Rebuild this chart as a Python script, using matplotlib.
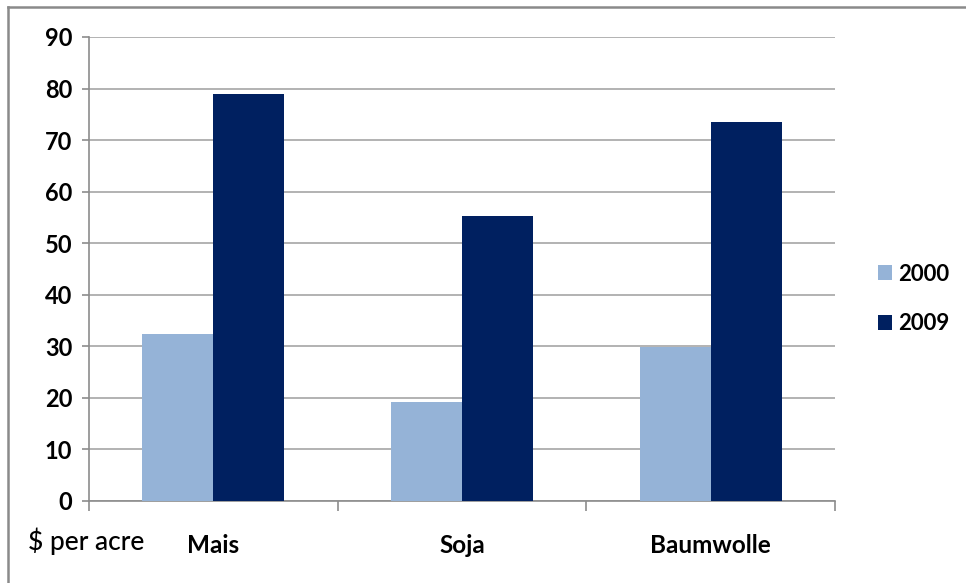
import matplotlib
matplotlib.use("Agg")
import matplotlib.pyplot as plt
from matplotlib.lines import Line2D
import numpy as np

categories = ["Mais", "Soja", "Baumwolle"]
series_names = ["2000", "2009"]
values_2000 = [32.4, 19.2, 29.9]
values_2009 = [78.9, 55.3, 73.6]
colors = ["#95B3D7", "#002060"]
yticks = [0, 10, 20, 30, 40, 50, 60, 70, 80, 90]

W, H = 966, 583
fig = plt.figure(figsize=(W / 100, H / 100), dpi=100)
ax = fig.add_axes([89 / W, 1 - 501 / H, (835 - 89) / W, (501 - 37) / H])

font = ["Lato", "DejaVu Sans"]
bw = 0.2857
x = np.arange(len(categories))
ax.bar(x - bw / 2, values_2000, width=bw, color=colors[0], label=series_names[0], zorder=3)
ax.bar(x + bw / 2, values_2009, width=bw, color=colors[1], label=series_names[1], zorder=3)

ax.set_xlim(-0.5, len(categories) - 0.5)
ax.set_ylim(0, 90)
ax.set_yticks(yticks)
ax.set_yticklabels([str(t) for t in yticks], fontsize=17, fontweight="bold", family=font)
ax.yaxis.grid(True, color="#A6A6A6", linewidth=1.2, zorder=0)
ax.set_axisbelow(True)

ax.set_xticks(np.arange(-0.5, len(categories) + 0.5, 1.0))
ax.set_xticklabels([])
ax.tick_params(axis="x", length=7, color="#8C8C8C", width=1.2)
ax.tick_params(axis="y", length=5, color="#8C8C8C", width=1.2, pad=7)
for i, c in enumerate(categories):
    ax.text(i, -0.095, c, transform=ax.get_xaxis_transform(), ha="center", va="center",
            fontsize=17.5, fontweight="bold", family=font)

for s in ["top", "right"]:
    ax.spines[s].set_visible(False)
for s in ["left", "bottom"]:
    ax.spines[s].set_color("#8C8C8C")
    ax.spines[s].set_linewidth(1.2)

fig.text(28 / W, 1 - 541 / H, "$ per acre", ha="left", va="center",
         fontsize=19, family=font, fontweight="medium")

leg = fig.legend(loc="center left", bbox_to_anchor=(878 / W, 1 - 299 / H), frameon=False,
                 borderpad=0, borderaxespad=0,
                 prop={"family": font, "weight": "bold", "size": 16},
                 handlelength=0.63, handleheight=0.63, handletextpad=0.27, labelspacing=1.3)

# outer chart border: only top and left edges are visible in the reference
fig.lines.append(Line2D([8 / W, 1.0], [1 - 7 / H, 1 - 7 / H], transform=fig.transFigure,
                        color="#8A8A8A", linewidth=1.8))
fig.lines.append(Line2D([8 / W, 8 / W], [0.0, 1 - 7 / H], transform=fig.transFigure,
                        color="#8A8A8A", linewidth=1.8))

fig.savefig("out.png", dpi=100)
